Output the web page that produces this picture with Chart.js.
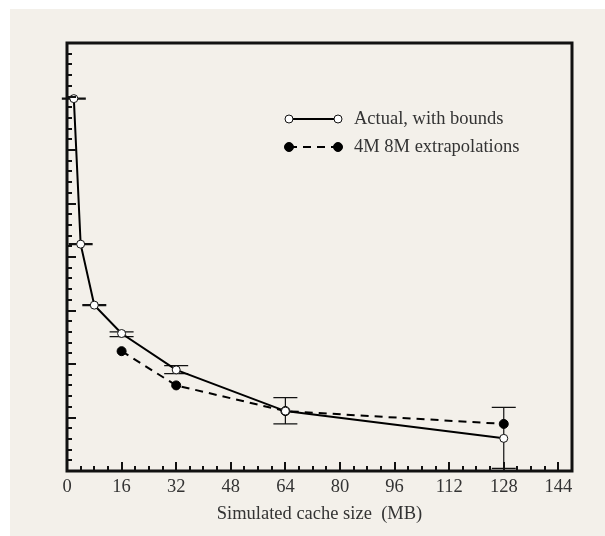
<!DOCTYPE html>
<html><head><meta charset="utf-8">
<script src="https://cdn.jsdelivr.net/npm/chart.js@4.4.0/dist/chart.umd.min.js"></script>
<style>html,body{margin:0;padding:0;background:#fff;} canvas{display:block;}</style>
</head><body>
<canvas id="c" width="605" height="536"></canvas>
<script>
const cacheSizes = [2, 4, 8, 16, 32, 64, 128];
const actualValues = [69.6, 42.4, 31.0, 25.7, 18.9, 11.2, 6.1];
const actualLower = [69.5, 42.3, 30.9, 25.1, 18.2, 8.8, 0.5];
const actualUpper = [69.7, 42.5, 31.1, 26.0, 19.7, 13.7, 11.9];
const extrapSizes = [16, 32, 64, 128];
const extrapValues = [22.4, 16.0, 11.2, 8.8];
const xTickLabels = [0, 16, 32, 48, 64, 80, 96, 112, 128, 144];
const seriesNames = ['Actual, with bounds', '4M 8M extrapolations'];
const xAxisTitle = 'Simulated cache size  (MB)';

const FONT = 'Liberation Serif, Times New Roman, serif';
const TEXT = '#333';
const FSIZE = 18.5;

const bgPlugin = {
  id: 'bg',
  beforeDraw(chart) {
    const ctx = chart.ctx;
    ctx.save();
    ctx.fillStyle = '#fff';
    ctx.fillRect(0, 0, chart.width, chart.height);
    ctx.fillStyle = '#f3f0ea';
    ctx.fillRect(10, 9, chart.width - 10, chart.height - 9);
    ctx.restore();
  }
};

const errorBarPlugin = {
  id: 'errbars',
  beforeDatasetsDraw(chart) {
    const ctx = chart.ctx, xs = chart.scales.x, ys = chart.scales.y;
    ctx.save();
    ctx.strokeStyle = '#111';
    ctx.lineWidth = 1.2;
    cacheSizes.forEach((x, i) => {
      const px = xs.getPixelForValue(x);
      const pl = ys.getPixelForValue(actualLower[i]);
      const pu = ys.getPixelForValue(actualUpper[i]);
      ctx.beginPath();
      ctx.moveTo(px, pl); ctx.lineTo(px, pu);
      ctx.moveTo(px - 12, pl); ctx.lineTo(px + 12, pl);
      ctx.moveTo(px - 12, pu); ctx.lineTo(px + 12, pu);
      ctx.stroke();
    });
    ctx.restore();
  }
};

const framePlugin = {
  id: 'frame',
  afterDatasetsDraw(chart) {
    const ctx = chart.ctx, a = chart.chartArea, xs = chart.scales.x, ys = chart.scales.y;
    ctx.save();
    ctx.strokeStyle = '#111';
    ctx.lineWidth = 2;
    ctx.beginPath();
    for (let v = 4; v <= 144; v += 4) {
      const px = Math.round(xs.getPixelForValue(v));
      const len = v % 16 === 0 ? 9 : 5;
      ctx.moveTo(px, a.bottom); ctx.lineTo(px, a.bottom - len);
    }
    for (let v = 2; v < 80; v += 2) {
      const py = Math.round(ys.getPixelForValue(v));
      const len = v % 10 === 0 ? 9 : 5;
      ctx.moveTo(a.left, py); ctx.lineTo(a.left + len, py);
    }
    ctx.stroke();
    ctx.lineWidth = 3;
    ctx.strokeRect(a.left, a.top, a.right - a.left, a.bottom - a.top);
    ctx.restore();
  }
};

const legendPlugin = {
  id: 'customLegend',
  afterDraw(chart) {
    const ctx = chart.ctx;
    const x0 = 289, x1 = 338, tx = 354;
    const rows = [119, 147];
    ctx.save();
    chart.data.datasets.forEach((ds, i) => {
      const y = rows[i];
      ctx.strokeStyle = '#000';
      ctx.lineWidth = 2;
      ctx.setLineDash(ds.borderDash || []);
      ctx.beginPath(); ctx.moveTo(x0, y); ctx.lineTo(x1, y); ctx.stroke();
      ctx.setLineDash([]);
      [x0, x1].forEach(cx => {
        ctx.beginPath(); ctx.arc(cx, y, ds.pointRadius, 0, Math.PI * 2);
        ctx.fillStyle = ds.pointBackgroundColor; ctx.fill();
        ctx.lineWidth = 1; ctx.strokeStyle = ds.pointBorderColor; ctx.stroke();
      });
      ctx.fillStyle = TEXT;
      ctx.font = FSIZE + 'px ' + FONT;
      ctx.textBaseline = 'middle';
      ctx.fillText(ds.label, tx, y);
    });
    ctx.restore();
  }
};

new Chart(document.getElementById('c'), {
  type: 'line',
  data: {
    datasets: [
      {
        label: seriesNames[0],
        data: cacheSizes.map((x, i) => ({ x: x, y: actualValues[i] })),
        borderColor: '#000', borderWidth: 2,
        pointRadius: 4, pointBackgroundColor: '#fff', pointBorderColor: '#111', pointBorderWidth: 1,
        tension: 0, fill: false
      },
      {
        label: seriesNames[1],
        data: extrapSizes.map((x, i) => ({ x: x, y: extrapValues[i] })),
        borderColor: '#000', borderWidth: 2, borderDash: [8, 6],
        pointRadius: 4.5, pointBackgroundColor: '#000', pointBorderColor: '#000', pointBorderWidth: 1,
        tension: 0, fill: false
      }
    ]
  },
  options: {
    responsive: false, animation: false,
    layout: { padding: { left: 67, right: 33, top: 43, bottom: 0 } },
    plugins: { legend: { display: false }, tooltip: { enabled: false } },
    scales: {
      x: {
        type: 'linear', min: 0, max: 148,
        grid: { display: false, drawTicks: false },
        border: { display: false },
        afterBuildTicks: s => { s.ticks = xTickLabels.map(v => ({ value: v })); },
        afterFit: s => { s.height = 65; },
        ticks: { padding: 5, color: TEXT, font: { family: FONT, size: FSIZE }, maxRotation: 0, autoSkip: false },
        title: { display: true, text: xAxisTitle, color: TEXT, font: { family: FONT, size: FSIZE }, padding: { top: 0, bottom: 11 } }
      },
      y: { type: 'linear', min: 0, max: 80, display: false }
    }
  },
  plugins: [bgPlugin, errorBarPlugin, framePlugin, legendPlugin]
});
</script>
</body></html>
